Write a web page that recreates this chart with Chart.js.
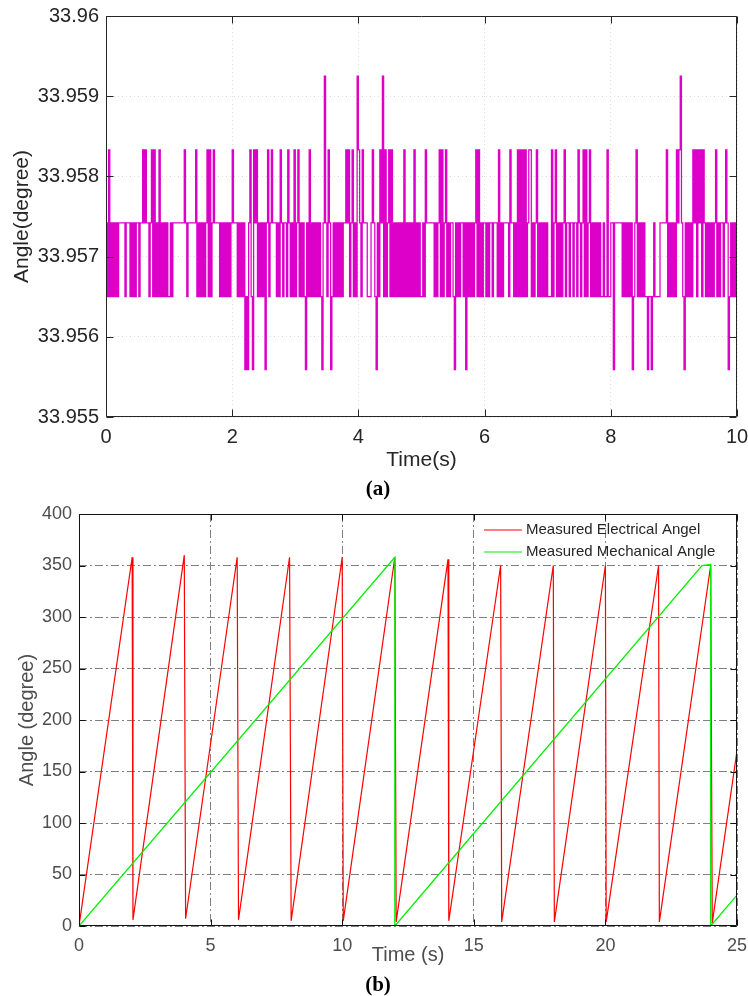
<!DOCTYPE html>
<html><head><meta charset="utf-8">
<script src="https://cdn.jsdelivr.net/npm/chart.js@4.4.1/dist/chart.umd.min.js"></script>
<style>
html,body{margin:0;padding:0;background:#fff;}
#wrap{position:relative;width:748px;height:996px;overflow:hidden;background:#fff;}
canvas{position:absolute;left:0;}
#ca{top:0;}
#cb{top:480px;}
.cap{position:absolute;width:100px;left:328px;text-align:center;font-family:'Liberation Serif','DejaVu Serif',serif;font-weight:bold;font-size:21px;color:#000;line-height:24px;}
</style></head><body>
<div id="wrap">
<canvas id="ca" width="748" height="480"></canvas>
<canvas id="cb" width="748" height="516"></canvas>
<div class="cap" style="top:476px">(a)</div>
<div class="cap" style="top:972px">(b)</div>
</div>
<script>
// ---------- Chart (a): quantized angle levels and samples (codes index into levelValues) ----------
const levelValues = [33.95559, 33.95650, 33.95742, 33.95833, 33.95925];
const sampleStep = 0.02; // seconds between samples
const sec0 = [2,1,3,1,2,1,2,1,2,1, 2,2,2,2,2,1,2,2,2,1, 2,1,2,1,2,2,1,2,2,3, 2,3,2,2,1,2,3,1,3,1, 2,1,3,1,2,1,2,1,2,1];
const sec1 = [1,2,1,2,2,2,2,2,2,2, 2,2,3,2,1,2,2,2,2,2, 2,3,1,2,1,2,1,2,1,2, 3,1,3,1,2,3,2,2,2,2, 1,2,1,2,1,2,1,2,1,2];
const sec2 = [3,2,2,2,1,2,1,2,1,2, 0,1,0,2,3,1,0,3,2,3, 1,2,1,2,1,2,0,2,3,1, 2,3,2,2,2,1,2,1,3,2, 1,2,2,1,3,2,1,2,1,3];
const sec3 = [1,2,3,1,2,1,2,1,0,2, 1,3,1,2,1,2,1,2,1,2, 1,0,2,4,2,1,3,2,0,1, 2,1,2,1,2,1,2,1,2,2, 3,2,3,1,2,3,1,2,1,4];
const sec4 = [3,2,1,3,2,2,2,1,1,1, 2,3,2,1,0,2,1,3,2,4, 1,3,1,2,3,1,3,1,2,1, 2,1,2,1,2,1,3,1,2,1, 2,1,2,1,3,1,2,1,2,1];
const sec5 = [1,2,1,3,2,2,2,2,2,2, 1,2,1,2,3,1,3,1,2,3, 1,2,1,2,2,1,0,2,1,2, 1,2,2,1,2,0,2,1,2,1, 2,1,2,3,1,3,1,2,1,2];
const sec6 = [2,1,2,1,2,2,1,2,2,2, 1,3,1,2,1,2,2,2,2,1, 3,2,2,1,2,1,3,1,3,1, 3,1,3,1,2,3,3,1,2,1, 2,3,1,2,1,2,1,2,1,2];
const sec7 = [1,1,1,3,1,2,3,1,2,1, 2,1,2,3,1,2,2,1,2,2, 1,2,2,1,3,2,1,2,3,1, 3,1,2,3,1,2,1,2,1,2, 1,2,1,1,2,1,1,3,1,1];
const sec8 = [2,2,0,2,2,2,2,2,2,1, 2,1,2,1,2,1,2,0,1,2, 3,1,2,1,2,1,2,1,1,0, 1,1,0,1,2,1,1,1,1,2, 2,2,2,2,3,1,2,1,2,1];
const sec9 = [2,1,3,2,3,4,2,1,0,2, 1,2,1,2,1,3,2,3,1,3, 2,3,1,3,2,1,2,1,2,1, 2,1,2,3,1,2,1,2,2,1, 2,3,2,0,1,2,1,2,1,2];
const lastSample = [1];
const xTicksA = [0, 2, 4, 6, 8, 10];
const yTicksA = [33.955, 33.956, 33.957, 33.958, 33.959, 33.96];
const yTickLabelsA = ['33.955', '33.956', '33.957', '33.958', '33.959', '33.96'];

// ---------- Chart (b): electrical / mechanical angle ----------
const elecTime  = [0, 2.02, 2.05, 4.0, 4.05, 6.01, 6.06, 8.0, 8.06, 10.0, 10.04, 12.0, 12.05, 14.02, 14.05, 16.02, 16.06, 18.02, 18.06, 20.0, 20.03, 22.02, 22.05, 24.0, 24.06, 25];
const elecAngle = [0, 358, 6, 360, 7, 358, 6, 358, 5, 358, 5, 358, 4, 356, 5, 350, 4, 350, 4, 350, 4, 350, 4, 350, 3, 170];
const mechTime  = [0, 12.0, 12.0, 23.67, 24.0, 24.0, 25];
const mechAngle = [0, 358, 0, 350, 351, 0, 30];
const xTicksB = [0, 5, 10, 15, 20, 25];
const yTicksB = [0, 50, 100, 150, 200, 250, 300, 350, 400];
const legendLabels = ['Measured Electrical Angel', 'Measured Mechanical Angle'];

Chart.defaults.font.family = "'Liberation Sans', Arial, Helvetica, sans-serif";

const codesA = [].concat(sec0, sec1, sec2, sec3, sec4, sec5, sec6, sec7, sec8, sec9, lastSample);
const seriesA = codesA.map((c, i) => ({ x: +(i * sampleStep).toFixed(2), y: levelValues[c] }));

const boxTicks = {
  id: 'boxTicks',
  afterDraw(chart, args, opts) {
    const { ctx, chartArea: a, scales: { x, y } } = chart;
    const L = Math.floor(a.left) + 0.5, R = Math.ceil(a.right) - 0.5;
    const T = Math.floor(a.top) + 0.5, B = Math.ceil(a.bottom) - 0.5;
    const len = opts.len;
    ctx.save();
    ctx.strokeStyle = opts.color;
    ctx.lineWidth = 1;
    ctx.setLineDash([]);
    ctx.beginPath();
    ctx.moveTo(L, T); ctx.lineTo(R, T); ctx.lineTo(R, B); ctx.lineTo(L, B); ctx.closePath();
    x.ticks.forEach(t => {
      const px = Math.round(x.getPixelForValue(t.value)) + 0.5;
      ctx.moveTo(px, B); ctx.lineTo(px, B - len);
      ctx.moveTo(px, T); ctx.lineTo(px, T + len);
    });
    y.ticks.forEach(t => {
      const py = Math.round(y.getPixelForValue(t.value)) + 0.5;
      ctx.moveTo(L, py); ctx.lineTo(L + len, py);
      ctx.moveTo(R, py); ctx.lineTo(R - len, py);
    });
    ctx.stroke();
    ctx.restore();
  }
};

const lineLegend = {
  id: 'lineLegend',
  afterDraw(chart, args, opts) {
    if (!opts.labels) return;
    const { ctx, chartArea: a } = chart;
    ctx.save();
    opts.labels.forEach((lab, i) => {
      const ds = chart.data.datasets.find(d => d.label === lab);
      const yy = a.top + opts.firstY + i * opts.rowH;
      ctx.strokeStyle = ds.borderColor;
      ctx.lineWidth = 1.2;
      ctx.beginPath();
      ctx.moveTo(a.right - 253, yy); ctx.lineTo(a.right - 215, yy);
      ctx.stroke();
      ctx.fillStyle = '#262626';
      ctx.font = "15px 'Liberation Sans', Arial, sans-serif";
      ctx.textBaseline = 'middle';
      ctx.textAlign = 'left';
      ctx.fillText(lab, a.right - 211, yy);
    });
    ctx.restore();
  }
};

// ---------- Chart (a) ----------
new Chart(document.getElementById('ca'), {
  type: 'line',
  data: { datasets: [{ label: 'Angle', data: seriesA, borderColor: '#dd00c8', borderWidth: 1.25, pointRadius: 0, stepped: true, fill: false }] },
  options: {
    responsive: false, animation: false, events: [],
    layout: { padding: { top: 16, right: 11, left: 0, bottom: 0 } },
    plugins: { legend: { display: false }, tooltip: { enabled: false }, boxTicks: { color: '#262626', len: 7 } },
    scales: {
      x: {
        type: 'linear', min: 0, max: 10,
        afterBuildTicks: s => { s.ticks = xTicksA.map(v => ({ value: v })); },
        afterFit: s => { s.height = 63; s.paddingLeft = 0; s.paddingRight = 0; },
        ticks: { font: { size: 20 }, color: '#262626', padding: 8, maxRotation: 0, autoSkip: false },
        grid: { color: '#dedede', lineWidth: 1, drawTicks: false },
        border: { display: false, dash: [1, 3] },
        title: { display: true, text: 'Time(s)', font: { size: 21 }, color: '#262626', padding: { top: 0, bottom: 7 } }
      },
      y: {
        type: 'linear', min: 33.955, max: 33.96,
        afterBuildTicks: s => { s.ticks = yTicksA.map(v => ({ value: v })); },
        afterFit: s => { s.width = 106; s.paddingTop = 0; s.paddingBottom = 0; },
        ticks: { font: { size: 20 }, color: '#262626', padding: 7, autoSkip: false, callback: (v, i) => yTickLabelsA[i] },
        grid: { color: '#dedede', lineWidth: 1, drawTicks: false },
        border: { display: false, dash: [1, 3] },
        title: { display: true, text: 'Angle(degree)', font: { size: 21 }, color: '#262626', padding: { top: 10, bottom: 0 } }
      }
    }
  },
  plugins: [boxTicks]
});

// ---------- Chart (b) ----------
new Chart(document.getElementById('cb'), {
  type: 'line',
  data: {
    datasets: [
      { label: legendLabels[0], data: elecTime.map((t, i) => ({ x: t, y: elecAngle[i] })), borderColor: '#ff0000', borderWidth: 1.2, pointRadius: 0, fill: false, order: 1 },
      { label: legendLabels[1], data: mechTime.map((t, i) => ({ x: t, y: mechAngle[i] })), borderColor: '#00f000', borderWidth: 1.3, pointRadius: 0, fill: false, order: 0 }
    ]
  },
  options: {
    responsive: false, animation: false, events: [],
    layout: { padding: { top: 34, right: 11, left: 0, bottom: 0 } },
    plugins: {
      legend: { display: false }, tooltip: { enabled: false },
      boxTicks: { color: '#111111', len: 6 },
      lineLegend: { labels: legendLabels, firstY: 16, rowH: 22 }
    },
    scales: {
      x: {
        type: 'linear', min: 0, max: 25,
        afterBuildTicks: s => { s.ticks = xTicksB.map(v => ({ value: v })); },
        afterFit: s => { s.height = 70; s.paddingLeft = 0; s.paddingRight = 0; },
        ticks: { font: { size: 18 }, color: '#4d4d4d', padding: 9, maxRotation: 0, autoSkip: false },
        grid: { color: '#808080', lineWidth: 1, drawTicks: false },
        border: { display: false, dash: [8, 3, 2, 3] },
        title: { display: true, text: 'Time (s)', font: { size: 20 }, color: '#4d4d4d', padding: { top: 0, bottom: 29 } }
      },
      y: {
        type: 'linear', min: 0, max: 400,
        afterBuildTicks: s => { s.ticks = yTicksB.map(v => ({ value: v })); },
        afterFit: s => { s.width = 79; s.paddingTop = 0; s.paddingBottom = 0; },
        ticks: { font: { size: 18 }, color: '#4d4d4d', padding: 7, autoSkip: false },
        grid: { color: '#808080', lineWidth: 1, drawTicks: false },
        border: { display: false, dash: [8, 3, 2, 3] },
        title: { display: true, text: 'Angle (degree)', font: { size: 20 }, color: '#4d4d4d', padding: { top: 15, bottom: 0 } }
      }
    }
  },
  plugins: [boxTicks, lineLegend]
});
</script>
</body></html>
